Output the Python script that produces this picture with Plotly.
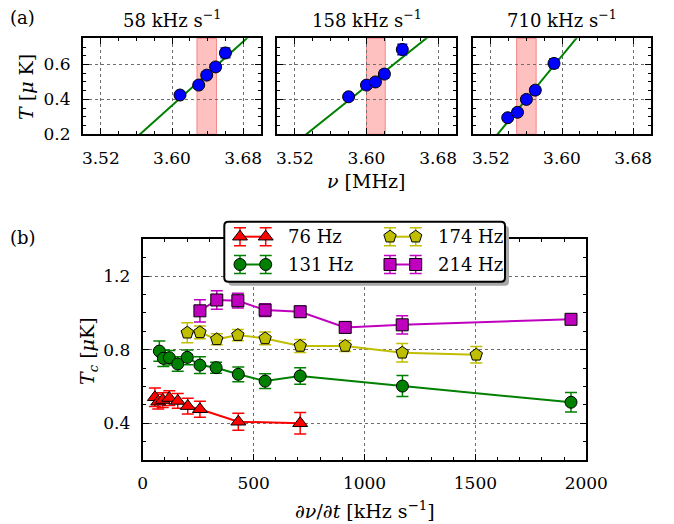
import plotly.graph_objects as go
import numpy as np

W, H = 674, 524
FONT = "DejaVu Serif"

# ---------------- (a) temperature vs final RF frequency ----------------
rate_labels = ["58", "158", "710"]
nu_58 = [3.609, 3.630, 3.639, 3.649, 3.660]
T_58 = [0.425, 0.482, 0.539, 0.586, 0.666]
dT_58 = [0.015, 0.018, 0.020, 0.020, 0.028]
nu_158 = [3.580, 3.600, 3.610, 3.620, 3.640]
T_158 = [0.415, 0.482, 0.500, 0.545, 0.686]
dT_158 = [0.015, 0.018, 0.020, 0.022, 0.030]
nu_710 = [3.539, 3.550, 3.560, 3.570, 3.591]
T_710 = [0.295, 0.326, 0.400, 0.453, 0.606]
dT_710 = [0.015, 0.018, 0.018, 0.020, 0.025]
fit_slope = [4.58, 4.10, 6.21]          # uK per MHz
fit_T_at_360 = [0.365, 0.476, 0.650]    # fitted T at 3.60 MHz
band_lo = [3.628, 3.600, 3.549]
band_hi = [3.650, 3.621, 3.571]

# ---------------- (b) critical temperature vs sweep rate ----------------
rate_76 = [55, 70, 90, 120, 158, 203, 258, 431, 710]
Tc_76 = [0.541, 0.517, 0.526, 0.537, 0.521, 0.493, 0.476, 0.408, 0.400]
dTc_76 = [0.050, 0.040, 0.040, 0.040, 0.040, 0.043, 0.043, 0.046, 0.058]
rate_131 = [75, 93, 120, 158, 201, 258, 331, 431, 552, 710, 1171, 1931]
Tc_131 = [0.792, 0.753, 0.756, 0.722, 0.758, 0.716, 0.702, 0.666, 0.629, 0.657, 0.602, 0.514]
dTc_131 = [0.055, 0.045, 0.040, 0.040, 0.040, 0.045, 0.030, 0.040, 0.040, 0.045, 0.057, 0.053]
rate_174 = [201, 258, 334, 429, 552, 710, 913, 1170, 1504]
Tc_174 = [0.892, 0.894, 0.856, 0.879, 0.861, 0.820, 0.820, 0.783, 0.772]
dTc_174 = [0.054, 0.035, 0.030, 0.030, 0.035, 0.035, 0.030, 0.050, 0.045]
rate_214 = [258, 334, 429, 552, 710, 913, 1170, 1931]
Tc_214 = [1.011, 1.070, 1.066, 1.015, 1.006, 0.921, 0.935, 0.965]
dTc_214 = [0.060, 0.050, 0.040, 0.035, 0.030, 0.030, 0.050, 0.015]
trap_labels = ["76", "131", "174", "214"]


def px_x(x):
    return x / W


def px_y(y):
    return 1 - y / H


fig = go.Figure()

top_data = [(nu_58, T_58, dT_58), (nu_158, T_158, dT_158), (nu_710, T_710, dT_710)]
top_dom = [(83, 261), (277, 456), (473, 651)]
nu_line = np.array([3.50, 3.70])

for i, (nu, T, dT) in enumerate(top_data):
    ax = "" if i == 0 else str(i + 1)
    fig.add_trace(go.Scatter(
        x=nu_line, y=fit_T_at_360[i] + fit_slope[i] * (nu_line - 3.60),
        mode="lines", line=dict(color="#008000", width=2),
        xaxis="x" + ax, yaxis="y" + ax, showlegend=False, hoverinfo="skip"))
    fig.add_trace(go.Scatter(
        x=nu, y=T, mode="markers",
        marker=dict(symbol="circle", size=12, color="#0000ff",
                    line=dict(color="black", width=1)),
        error_y=dict(type="data", array=dT, color="#0000ff", thickness=1.5, width=5),
        xaxis="x" + ax, yaxis="y" + ax, showlegend=False))
    fig.add_shape(type="rect", xref="x" + ax, yref="y" + ax + " domain",
                  x0=band_lo[i], x1=band_hi[i], y0=0, y1=1, layer="below",
                  fillcolor="rgba(255,60,60,0.32)",
                  line=dict(color="rgba(240,80,80,0.6)", width=1))

axis_common = dict(showline=True, linecolor="black", linewidth=2, mirror="allticks",
                   ticks="inside", ticklen=6, tickwidth=1, tickcolor="black",
                   showgrid=True, gridcolor="#6e6e6e", griddash="dot", gridwidth=1,
                   zeroline=False, ticklabelstandoff=7, automargin=False,
                   tickfont=dict(family=FONT, size=17, color="black"))

for i, (l, r) in enumerate(top_dom):
    ax = "" if i == 0 else str(i + 1)
    xa = dict(axis_common, domain=[px_x(l), px_x(r)], range=[3.50, 3.70],
              tick0=3.52, dtick=0.08, tickformat=".2f",
              minor=dict(ticks="inside", ticklen=3, tick0=3.50, dtick=0.02,
                         tickcolor="black", showgrid=False),
              anchor="y" + ax)
    ya = dict(axis_common, domain=[px_y(134.3), px_y(38.3)], range=[0.2, 0.75],
              tick0=0.2, dtick=0.2, tickformat=".1f",
              minor=dict(ticks="inside", ticklen=3, tick0=0.2, dtick=0.05,
                         tickcolor="black", showgrid=False),
              showticklabels=(i == 0), anchor="x" + ax)
    fig.update_layout(**{"xaxis" + ax: xa, "yaxis" + ax: ya})

# ---------------- bottom panel traces ----------------
colors = ["#ff0000", "#008000", "#bfbf00", "#bf00bf"]
symbols = ["triangle-up", "circle", "pentagon", "square"]
sizes = [13, 12, 13, 12]
series = [(rate_76, Tc_76, dTc_76), (rate_131, Tc_131, dTc_131),
          (rate_174, Tc_174, dTc_174), (rate_214, Tc_214, dTc_214)]

for (r, Tc, dTc), c, s, sz in zip(series, colors, symbols, sizes):
    fig.add_trace(go.Scatter(
        x=r, y=Tc, mode="lines+markers",
        line=dict(color=c, width=2),
        marker=dict(symbol=s, size=sz, color=c, line=dict(color="black", width=1)),
        error_y=dict(type="data", array=dTc, color=c, thickness=1.5, width=6),
        xaxis="x4", yaxis="y4", showlegend=False))

fig.update_layout(
    xaxis4=dict(axis_common, domain=[px_x(142.7), px_x(586.3)], range=[0, 2000],
                tick0=0, dtick=500,
                minor=dict(ticks="inside", ticklen=3, tick0=0, dtick=100,
                           tickcolor="black", showgrid=False),
                anchor="y4"),
    yaxis4=dict(axis_common, domain=[px_y(460), px_y(239.3)], range=[0.2, 1.4],
                tickvals=[0.4, 0.8, 1.2], ticktext=["0.4", "0.8", "1.2"],
                minor=dict(ticks="inside", ticklen=3, tick0=0.2, dtick=0.1,
                           tickcolor="black", showgrid=False),
                anchor="x4"),
)

# ---------------- axis titles ----------------
title_font = dict(family=FONT, size=19, color="black")
fig.add_annotation(x=px_x(366), y=px_y(181), xref="paper", yref="paper",
                   text="<i>ν</i> [MHz]", showarrow=False, font=title_font,
                   xanchor="center", yanchor="middle")
fig.add_annotation(x=px_x(26), y=px_y(87), xref="paper", yref="paper",
                   text="<i>T</i> [<i>μ</i> K]", showarrow=False, font=title_font,
                   textangle=-90, xanchor="center", yanchor="middle")
fig.add_annotation(x=px_x(365), y=px_y(510), xref="paper", yref="paper",
                   text="∂<i>ν</i>/∂<i>t</i> [kHz s<sup>−1</sup>]", showarrow=False,
                   font=title_font, xanchor="center", yanchor="middle")
fig.add_annotation(x=px_x(88), y=px_y(351), xref="paper", yref="paper",
                   text="<i>T<sub>c</sub></i> [<i>μ</i>K]", showarrow=False,
                   font=title_font, textangle=-90, xanchor="center", yanchor="middle")

# ---------------- legend panel (pixel coordinates) ----------------
LX0, LX1, LY0, LY1 = 218, 514, 216, 292
fig.update_layout(
    xaxis5=dict(domain=[px_x(LX0), px_x(LX1)], range=[LX0, LX1], visible=False,
                anchor="y5", fixedrange=True, automargin=False),
    yaxis5=dict(domain=[px_y(LY1), px_y(LY0)], range=[LY1, LY0], visible=False,
                anchor="x5", fixedrange=True, automargin=False),
)


def rounded_rect(x0, y0, x1, y1, r):
    return (f"M {x0 + r} {y0} L {x1 - r} {y0} Q {x1} {y0} {x1} {y0 + r} "
            f"L {x1} {y1 - r} Q {x1} {y1} {x1 - r} {y1} L {x0 + r} {y1} "
            f"Q {x0} {y1} {x0} {y1 - r} L {x0} {y0 + r} Q {x0} {y0} {x0 + r} {y0} Z")


bx0, by0, bx1, by1 = 224.3, 221.7, 505, 281.7
fig.add_shape(type="path", xref="x5", yref="y5", layer="below",
              path=rounded_rect(bx0 + 4, by0 + 4, bx1 + 4, by1 + 4, 4),
              fillcolor="#a8a8a8", line=dict(width=0))
fig.add_shape(type="path", xref="x5", yref="y5", layer="below",
              path=rounded_rect(bx0, by0, bx1, by1, 4),
              fillcolor="white", line=dict(color="black", width=2))

leg_pos = [(240, 236.7), (240, 264.5), (390, 236.7), (390, 264.5)]
for k, ((lx, ly), c, s, sz) in enumerate(zip(leg_pos, colors, symbols, sizes)):
    fig.add_trace(go.Scatter(
        x=[lx, lx + 25.7], y=[ly, ly], mode="lines+markers",
        line=dict(color=c, width=2),
        marker=dict(symbol=s, size=sz, color=c, line=dict(color="black", width=1)),
        error_y=dict(type="data", array=[9, 9], color=c, thickness=1.5, width=6),
        xaxis="x5", yaxis="y5", showlegend=False, hoverinfo="skip"))
    fig.add_annotation(x=lx + 46, y=ly, xref="x5", yref="y5", xanchor="left",
                       yanchor="middle", showarrow=False,
                       text=f"{trap_labels[k]} Hz",
                       font=dict(family=FONT, size=18, color="black"))

# ---------------- panel titles and labels ----------------
for i, (l, r) in enumerate(top_dom):
    fig.add_annotation(x=px_x((l + r) / 2), y=px_y(19), xref="paper", yref="paper",
                       text=f"{rate_labels[i]} kHz s<sup>−1</sup>", showarrow=False,
                       xanchor="center", yanchor="middle",
                       font=dict(family=FONT, size=18, color="black"))

fig.add_annotation(x=px_x(8), y=px_y(17), xref="paper", yref="paper", text="(a)",
                   showarrow=False, xanchor="left", yanchor="middle",
                   font=dict(family=FONT, size=18, color="black"))
fig.add_annotation(x=px_x(8), y=px_y(238), xref="paper", yref="paper", text="(b)",
                   showarrow=False, xanchor="left", yanchor="middle",
                   font=dict(family=FONT, size=18, color="black"))

fig.update_layout(
    width=W, height=H, margin=dict(l=0, r=0, t=0, b=0, autoexpand=False),
    paper_bgcolor="white", plot_bgcolor="rgba(0,0,0,0)",
    font=dict(family=FONT, color="black"),
    showlegend=False,
)

fig.write_html("out.html")
